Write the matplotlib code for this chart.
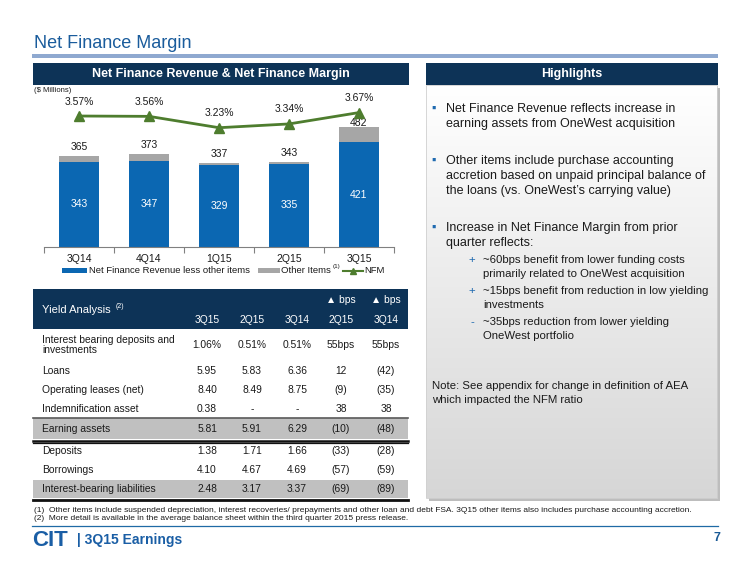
import matplotlib
matplotlib.use("Agg")
import matplotlib.pyplot as plt
import numpy as np
from matplotlib.patches import Rectangle
from matplotlib.lines import Line2D

plt.rcParams['font.family'] = ['Liberation Sans', 'DejaVu Sans']

# chart data
quarters = ['3Q14', '4Q14', '1Q15', '2Q15', '3Q15']
nfr_less_other = [343, 347, 329, 335, 421]
nfr_total = [365, 373, 337, 343, 482]
nfm_pct = [3.57, 3.56, 3.23, 3.34, 3.67]

# yield table
row_names = ['Interest bearing deposits and\ninvestments', 'Loans', 'Operating leases (net)',
             'Indemnification asset', 'Earning assets', 'Deposits', 'Borrowings',
             'Interest-bearing liabilities']
col_names = ['3Q15', '2Q15', '3Q14', '2Q15', '3Q14']
yld_3q15 = ['1.06%', '5.95', '8.40', '0.38', '5.81', '1.38', '4.10', '2.48']
yld_2q15 = ['0.51%', '5.83', '8.49', '-', '5.91', '1.71', '4.67', '3.17']
yld_3q14 = ['0.51%', '6.36', '8.75', '-', '6.29', '1.66', '4.69', '3.37']
chg_2q15 = ['55bps', '12', '(9)', '38', '(10)', '(33)', '(57)', '(69)']
chg_3q14 = ['55bps', '(42)', '(35)', '38', '(48)', '(28)', '(59)', '(89)']

# highlights text
bullets = [
    ['Net Finance Revenue reflects increase in', 'earning assets from OneWest acquisition'],
    ['Other items include purchase accounting', 'accretion based on unpaid principal balance of',
     'the loans (vs. OneWest\u2019s carrying value)'],
    ['Increase in Net Finance Margin from prior', 'quarter reflects:'],
]
sub_signs = ['+', '+', '-']
sub_bullets = [
    ['~60bps benefit from lower funding costs', 'primarily related to OneWest acquisition'],
    ['~15bps benefit from reduction in low yielding', 'investments'],
    ['~35bps reduction from lower yielding', 'OneWest portfolio'],
]
note = ['Note: See appendix for change in definition of AEA', 'which impacted the NFM ratio']
footnotes = [
    '(1)  Other items include suspended depreciation, interest recoveries/ prepayments and other loan and debt FSA. 3Q15 other items also includes purchase accounting accretion.',
    '(2)  More detail is available in the average balance sheet within the third quarter 2015 press release.',
]

W, H = 750, 563
NAVY = '#0d3357'
BLUE = '#0b67b2'
GRAY = '#a6a6a6'
GREEN = '#4e7d2e'
TXT = '#1a1a1a'

fig = plt.figure(figsize=(W / 100, H / 100), dpi=100)
fig.patch.set_facecolor('white')

# pixel-space overlay for the slide layout
bg = fig.add_axes([0, 0, 1, 1])
bg.set_xlim(0, W)
bg.set_ylim(H, 0)
bg.axis('off')


def box(x0, y0, x1, y1, **kw):
    bg.add_patch(Rectangle((x0, y0), x1 - x0, y1 - y0, **kw))


def lines_at(x, y, lines, step, **kw):
    for k, s in enumerate(lines):
        bg.text(x, y + k * step, s, va='center', zorder=4, **kw)


# title + rule
bg.text(34, 43, 'Net Finance Margin', fontsize=13, color='#1a5c9c', va='center')
box(32, 54, 718, 58, color='#8fa9d0', lw=0)

# section headers
box(33, 63, 409, 85, color=NAVY, lw=0)
bg.text(221, 74, 'Net Finance Revenue & Net Finance Margin', fontsize=9, fontweight='bold',
        color='white', ha='center', va='center')
box(426, 63, 718, 85, color=NAVY, lw=0)
bg.text(572, 74, 'Highlights', fontsize=9, fontweight='bold', color='white', ha='center', va='center')

# highlights panel with shadow + gradient
box(429, 88, 720, 501, color='#bdbdbd', lw=0)
grad = np.linspace(1.0, 0.84, 200)
grad = np.dstack([grad, grad, grad]).reshape(200, 1, 3)
bg.imshow(grad, extent=(426, 717, 498, 85), aspect='auto', interpolation='bilinear', zorder=2)
box(426, 85, 717, 498, fill=False, ec='#d0d0d0', lw=0.6, zorder=3)

for y, t in zip([109, 161, 228], bullets):
    bg.text(434, y, '\u25aa', fontsize=9, color='#1f6ab0', va='center', ha='center', zorder=4)
    lines_at(446, y, t, 15, fontsize=9, color=TXT)
for y, s, t in zip([260, 291, 322], sub_signs, sub_bullets):
    bg.text(472, y, s, fontsize=8.2, color='#1f6ab0', va='center', ha='center', zorder=4)
    lines_at(483, y, t, 14, fontsize=8.2, color=TXT)
lines_at(432, 386, note, 14, fontsize=8.2, color=TXT)

# chart
ax = fig.add_axes([44 / W, 1 - 247 / H, 350 / W, 152 / H])
x = np.arange(len(quarters))
other = [t - b for t, b in zip(nfr_total, nfr_less_other)]
ax.bar(x, nfr_less_other, width=0.56, color=BLUE, zorder=2)
ax.bar(x, other, bottom=nfr_less_other, width=0.56, color=GRAY, zorder=2)
ax.set_xlim(-0.5, len(quarters) - 0.5)
ax.set_ylim(0, 610.4)
ax.set_xticks(x)
ax.set_xticklabels(quarters, fontsize=7.5, color=TXT)
ax.set_xticks(np.arange(-0.5, len(quarters)), minor=True)
ax.tick_params(axis='x', which='major', length=0, pad=5)
ax.tick_params(axis='x', which='minor', length=4, color='#808080', width=0.8)
ax.set_yticks([])
for s in ['top', 'right', 'left']:
    ax.spines[s].set_visible(False)
ax.spines['bottom'].set_color('#808080')
ax.spines['bottom'].set_linewidth(0.8)
ax.patch.set_alpha(0)

for i in x:
    ax.text(i, nfr_less_other[i] / 2, str(nfr_less_other[i]), color='white', fontsize=7.5,
            ha='center', va='center', zorder=3)
    off = 9 if i < len(x) - 1 else 4
    ax.annotate(str(nfr_total[i]), (i, nfr_total[i]), xytext=(0, off), textcoords='offset pixels',
                ha='center', va='center', fontsize=7.5, color=TXT)

ax2 = ax.twinx()
ax2.plot(x, nfm_pct, color=GREEN, lw=2, marker='^', ms=6.5, zorder=4)
ax2.set_ylim(-0.238, 4.181)
ax2.axis('off')
for i in x:
    ax2.annotate('%.2f%%' % nfm_pct[i], (i, nfm_pct[i]), xytext=(0, 14.5), textcoords='offset pixels',
                 ha='center', va='center', fontsize=7.5, color=TXT)

bg.text(34, 91, '($ Millions)', fontsize=5.5, color=TXT, va='center')

# chart legend
box(62, 268, 87, 273, color=BLUE, lw=0)
bg.text(89, 270.5, 'Net Finance Revenue less other items', fontsize=6.8, color=TXT, va='center')
box(258, 268, 280, 273, color=GRAY, lw=0)
bg.text(281, 270.5, 'Other Items', fontsize=6.8, color=TXT, va='center')
bg.text(333, 266.5, '(1)', fontsize=4.5, color=TXT, va='center')
bg.add_line(Line2D([343, 363], [270.5, 270.5], color=GREEN, lw=1.5))
bg.plot([353], [270.5], marker='^', color=GREEN, ms=4)
bg.text(364, 270.5, 'NFM', fontsize=6.8, color=TXT, va='center')

# yield table
box(33, 289, 408, 329, color=NAVY, lw=0)
bg.text(42, 310, 'Yield Analysis', fontsize=8, color='white', va='center')
bg.text(116, 306, '(2)', fontsize=5, color='white', va='center')
col_x = [207, 252, 297, 341, 386]
for cx, c in zip(col_x, col_names):
    bg.text(cx, 320, c, fontsize=7.4, color='white', ha='center', va='center')
for cx in col_x[3:]:
    bg.text(cx, 300, '\u25b2 bps', fontsize=7.4, color='white', ha='center', va='center')

row_y = [345, 371, 390, 409, 429, 451, 470, 489]
box(33, 418, 408, 439, color='#c0c0c0', lw=0)
bg.add_line(Line2D([33, 408], [418, 418], color='#595959', lw=1.2))
bg.add_line(Line2D([33, 408], [440.5, 440.5], color='#111111', lw=1.8))
bg.add_line(Line2D([33, 408], [443, 443], color='#111111', lw=0.9))
box(33, 480, 408, 498, color='#c0c0c0', lw=0)
bg.add_line(Line2D([33, 408], [499.5, 499.5], color='#111111', lw=2))

cols = [yld_3q15, yld_2q15, yld_3q14, chg_2q15, chg_3q14]
for r, (y, name) in enumerate(zip(row_y, row_names)):
    bg.text(42, y, name, fontsize=7.4, color=TXT, va='center', linespacing=1.05)
    for cx, col in zip(col_x, cols):
        bg.text(cx, y, col[r], fontsize=7.4, color=TXT, ha='center', va='center')

# footnotes + footer
bg.text(34, 510, footnotes[0], fontsize=6.0, color=TXT, va='center')
bg.text(34, 519, footnotes[1], fontsize=6.0, color=TXT, va='center')
bg.add_line(Line2D([32, 718], [525.7, 525.7], color='#1f6aa5', lw=0.9))
bg.text(32, 540, 'CIT', fontsize=16, fontweight='bold', color='#1a5ea5', va='center')
bg.text(77, 540, '| 3Q15 Earnings', fontsize=10, fontweight='bold', color='#1a5ea5', va='center')
bg.text(720, 538, '7', fontsize=9, fontweight='bold', color='#1a5a96', ha='right', va='center')

fig.savefig('out.png', dpi=100)
